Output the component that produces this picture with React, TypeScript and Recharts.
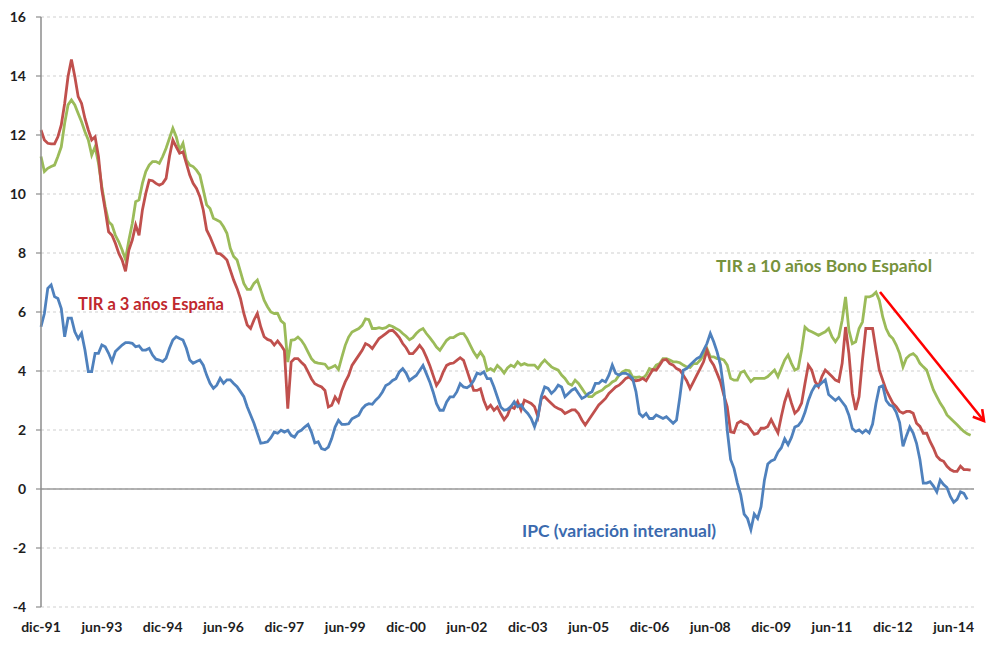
import React from 'react';
import { LineChart, Line, XAxis, YAxis, CartesianGrid, ReferenceLine } from 'recharts';

const monthNames = ['ene', 'feb', 'mar', 'abr', 'may', 'jun', 'jul', 'ago', 'sep', 'oct', 'nov', 'dic'];
const startYear = 1991;
const startMonth = 11; // dic-91
const monthCount = 277; // dic-91 .. dic-14

const yTicks = [-4, -2, 0, 2, 4, 6, 8, 10, 12, 14, 16];

// TIR a 3 años España (monthly, from dic-91)
const tir3 = [
  12.17, 11.83, 11.72, 11.7, 11.7, 11.94, 12.34, 13.07, 13.98, 14.56, 13.98, 13.3,
  13.07, 12.56, 12.17, 11.83, 11.94, 11.27, 10.14, 9.46, 8.72, 8.6, 8.33, 7.99,
  7.76, 7.38, 8.1, 8.44, 8.95, 8.6, 9.46, 10.02, 10.47, 10.45, 10.36, 10.3,
  10.36, 10.53, 11.27, 11.83, 11.6, 11.38, 11.43, 11.04, 10.64, 10.36, 10.19, 9.91,
  9.46, 8.78, 8.55, 8.27, 7.99, 7.97, 7.88, 7.76, 7.42, 7.08, 6.8, 6.46,
  5.95, 5.56, 5.44, 5.73, 5.95, 5.5, 5.16, 5.07, 5.03, 4.88, 5.02, 4.87,
  4.7, 2.72, 4.3, 4.42, 4.42, 4.3, 4.19, 3.97, 3.74, 3.57, 3.51, 3.46,
  3.34, 2.78, 2.84, 3.12, 2.95, 3.34, 3.63, 3.85, 4.19, 4.36, 4.53, 4.7,
  4.93, 4.87, 4.76, 4.93, 5.1, 5.18, 5.27, 5.36, 5.38, 5.27, 5.13, 4.93,
  4.79, 4.59, 4.59, 4.72, 4.87, 4.72, 4.47, 4.19, 3.85, 3.51, 3.68, 3.97,
  4.19, 4.25, 4.27, 4.36, 4.45, 4.36, 4.02, 3.68, 3.34, 3.34, 3.4, 3.0,
  2.72, 2.84, 2.67, 2.78, 2.55, 2.35, 2.5, 2.79, 2.73, 2.96, 2.68, 3.01,
  2.96, 2.9, 2.79, 2.45, 3.07, 3.13, 3.01, 2.9, 2.79, 2.73, 2.68, 2.56,
  2.62, 2.68, 2.68, 2.56, 2.34, 2.17, 2.34, 2.51, 2.68, 2.85, 2.96, 3.07,
  3.24, 3.35, 3.46, 3.52, 3.63, 3.75, 3.8, 3.69, 3.67, 3.69, 3.75, 3.67,
  3.86, 4.05, 4.03, 4.2, 4.37, 4.39, 4.25, 4.2, 4.08, 4.03, 3.86, 3.67,
  3.41, 3.63, 3.86, 4.08, 4.31, 4.7, 4.37, 4.2, 3.92, 3.63, 3.18, 2.79,
  1.94, 1.91, 2.23, 2.3, 2.22, 2.18, 2.01, 1.85, 1.89, 2.06, 2.06, 2.12,
  2.35, 2.12, 1.9, 2.46, 2.96, 3.3, 2.91, 2.57, 2.68, 2.91, 3.58, 4.2,
  4.03, 3.64, 3.47, 3.81, 4.03, 3.92, 3.81, 3.69, 3.64, 4.26, 5.49, 4.59,
  3.24, 2.68, 3.13, 4.37, 5.44, 5.44, 5.44, 4.71, 4.03, 3.69, 3.36, 3.13,
  2.91, 2.79, 2.63, 2.57, 2.63, 2.63, 2.57, 2.23, 2.12, 1.89, 1.89, 1.61,
  1.39, 1.11, 0.99, 0.94, 0.77, 0.66, 0.6, 0.6, 0.77, 0.66, 0.66, 0.64,
  null,
];

// TIR a 10 años Bono Español (monthly, from dic-91)
const tir10 = [
  11.27, 10.76, 10.87, 10.93, 10.98, 11.27, 11.6, 12.4, 13.02, 13.19, 13.02, 12.73,
  12.45, 12.11, 11.83, 11.32, 11.6, 11.04, 10.25, 9.57, 9.06, 8.95, 8.6, 8.38,
  8.1, 7.78, 8.44, 9.0, 9.74, 9.8, 10.36, 10.76, 10.98, 11.1, 11.1, 11.04,
  11.27, 11.55, 11.89, 12.23, 11.94, 11.49, 11.72, 11.15, 10.98, 10.93, 10.81, 10.64,
  10.14, 9.63, 9.51, 9.18, 9.12, 9.06, 8.89, 8.67, 8.16, 7.88, 7.76, 7.37,
  6.97, 6.77, 6.77, 6.97, 7.08, 6.75, 6.4, 6.18, 6.0, 5.95, 5.95, 5.7,
  5.6, 4.3, 5.04, 5.06, 5.15, 5.04, 4.87, 4.64, 4.42, 4.3, 4.27, 4.25,
  4.23, 4.08, 4.13, 4.19, 4.05, 4.47, 4.87, 5.15, 5.32, 5.38, 5.44, 5.55,
  5.77, 5.74, 5.44, 5.44, 5.47, 5.44, 5.47, 5.55, 5.51, 5.44, 5.38, 5.27,
  5.18, 5.06, 5.13, 5.27, 5.38, 5.44, 5.27, 5.13, 4.98, 4.81, 4.7, 4.87,
  5.04, 5.13, 5.13, 5.21, 5.27, 5.27, 5.1, 4.87, 4.64, 4.47, 4.64, 4.47,
  4.02, 4.08, 4.0, 4.19, 4.08, 3.93, 4.1, 4.2, 4.14, 4.31, 4.2, 4.25,
  4.2, 4.2, 4.2, 4.08, 4.25, 4.37, 4.25, 4.14, 4.08, 4.03, 3.86, 3.75,
  3.58, 3.52, 3.69, 3.58, 3.41, 3.24, 3.13, 3.13, 3.24, 3.3, 3.35, 3.46,
  3.52, 3.63, 3.69, 3.86, 3.97, 4.03, 4.01, 3.8, 3.78, 3.8, 3.75, 3.86,
  4.08, 4.03, 4.2, 4.25, 4.42, 4.42, 4.37, 4.31, 4.31, 4.28, 4.2, 4.14,
  4.12, 4.25, 4.25, 4.37, 4.54, 4.76, 4.48, 4.48, 4.42, 4.42, 4.37, 4.2,
  3.75, 3.69, 3.69, 3.95, 4.0, 3.81, 3.64, 3.75, 3.75, 3.75, 3.75, 3.81,
  3.92, 4.03, 3.81, 4.09, 4.37, 4.54, 4.26, 4.03, 4.09, 4.71, 5.49, 5.38,
  5.33, 5.27, 5.21, 5.27, 5.33, 5.44, 5.16, 4.99, 5.16, 5.72, 6.51, 5.38,
  4.93, 4.99, 5.44, 5.66, 6.51, 6.51, 6.56, 6.67, 6.39, 5.83, 5.44, 5.21,
  5.1, 4.88, 4.59, 4.14, 4.43, 4.54, 4.59, 4.48, 4.26, 4.14, 4.03, 3.69,
  3.36, 3.13, 2.91, 2.74, 2.51, 2.4, 2.29, 2.18, 2.06, 1.95, 1.87, 1.82,
  null,
];

// IPC (variación interanual) (monthly, from dic-91)
const ipc = [
  5.5, 5.95, 6.8, 6.92, 6.52, 6.46, 6.12, 5.16, 5.79, 5.79, 5.33, 5.1,
  5.28, 4.71, 3.98, 3.98, 4.6, 4.6, 4.88, 4.82, 4.6, 4.32, 4.66, 4.77,
  4.88, 4.96, 4.96, 4.94, 4.82, 4.85, 4.71, 4.71, 4.77, 4.54, 4.4, 4.37,
  4.32, 4.43, 4.77, 5.05, 5.16, 5.1, 5.05, 4.77, 4.37, 4.26, 4.32, 4.37,
  4.2, 3.86, 3.58, 3.41, 3.52, 3.75, 3.58, 3.7, 3.7, 3.58, 3.47, 3.3,
  3.13, 2.79, 2.51, 2.23, 1.89, 1.55, 1.57, 1.6, 1.74, 1.93, 1.89, 1.99,
  1.93, 1.99, 1.82, 1.76, 1.93, 1.99, 2.1, 2.19, 1.93, 1.56, 1.6, 1.37,
  1.33, 1.42, 1.71, 2.1, 2.33, 2.19, 2.19, 2.21, 2.38, 2.44, 2.5, 2.72,
  2.84, 2.89, 2.87, 3.01, 3.12, 3.29, 3.51, 3.57, 3.68, 3.74, 3.97, 4.08,
  3.93, 3.68, 3.77, 3.85, 4.02, 4.19, 3.91, 3.63, 3.29, 2.89, 2.67, 2.67,
  2.95, 3.12, 3.12, 3.29, 3.57, 3.46, 3.43, 3.51, 3.68, 3.93, 3.89, 3.97,
  3.74, 3.74, 3.46, 3.12, 2.78, 2.67, 2.7, 2.79, 2.96, 2.79, 2.85, 2.68,
  2.56, 2.39, 2.11, 2.45, 3.13, 3.46, 3.41, 3.24, 3.35, 3.52, 3.46, 3.13,
  3.24, 3.35, 3.41, 3.24, 3.07, 3.13, 3.24, 3.3, 3.58, 3.58, 3.69, 3.63,
  3.86, 4.2, 3.92, 3.86, 3.92, 3.92, 3.86, 3.75, 3.3, 2.56, 2.45, 2.56,
  2.39, 2.39, 2.51, 2.45, 2.39, 2.45, 2.34, 2.23, 2.34, 3.13, 4.03, 4.08,
  4.2, 4.31, 4.42, 4.48, 4.7, 4.93, 5.27, 4.99, 4.65, 4.2, 3.35, 2.0,
  1.0, 0.7, 0.2, -0.2, -0.85, -1.0, -1.38, -0.85, -1.0, -0.6, 0.3, 0.85,
  0.95, 1.0, 1.25, 1.4, 1.7, 1.5, 1.75, 2.1, 2.15, 2.3, 2.6, 3.0,
  3.3, 3.5, 3.5, 3.6, 3.7, 3.2, 3.1, 3.0, 3.1, 2.95, 2.8, 2.5,
  2.05, 1.95, 2.0, 1.9, 2.0, 1.9, 2.2, 2.9, 3.45, 3.5, 3.0, 2.85,
  2.8, 2.6, 2.25, 1.45, 1.8, 2.1, 1.9, 1.55, 1.0, 0.2, 0.2, 0.25,
  0.1, -0.1, 0.3, 0.15, 0.05, -0.25, -0.45, -0.35, -0.1, -0.15, -0.35, null,
  null,
];

const categories: string[] = Array.from({ length: monthCount }, (_, i) => {
  const idx = startMonth + i;
  const m = idx % 12;
  const y = (startYear + Math.floor(idx / 12)) % 100;
  return `${monthNames[m]}-${String(y).padStart(2, '0')}`;
});

const data = categories.map((label, i) => ({
  label,
  tir3: tir3[i] ?? null,
  tir10: tir10[i] ?? null,
  ipc: ipc[i] ?? null,
}));

const W = 984;
const H = 632;
const font = 'Lato, "Open Sans", sans-serif';

export default function App() {
  return (
    <div style={{ position: 'relative', width: W, height: H, background: '#fff' }}>
      <LineChart width={W} height={H} data={data} margin={{ top: 9, right: 18, bottom: 3, left: 0 }}>
        <CartesianGrid vertical={false} stroke="#cfcfcf" strokeDasharray="3 3" strokeWidth={1} />
        <XAxis
          dataKey="label"
          interval={17}
          axisLine={false}
          tickLine={false}
          tickSize={6}
          tickMargin={9}
          height={30}
          tick={{ fill: '#1e1e1e', fontSize: 14, fontWeight: 700, fontFamily: font }}
        />
        <YAxis
          type="number"
          domain={[-4, 16]}
          ticks={yTicks}
          interval={0}
          width={33}
          axisLine={{ stroke: '#8c8c8c', strokeWidth: 1.5 }}
          tickLine={{ stroke: '#8c8c8c', strokeWidth: 1.2 }}
          tickSize={5}
          tickMargin={10}
          tick={{ fill: '#1e1e1e', fontSize: 14, fontWeight: 700, fontFamily: font }}
        />
        <ReferenceLine y={0} stroke="#9a9a9a" strokeWidth={1.5} />
        <Line type="linear" dataKey="tir10" stroke="#9BBB59" strokeWidth={2.8} dot={false} isAnimationActive={false} connectNulls={false} />
        <Line type="linear" dataKey="tir3" stroke="#C0504D" strokeWidth={2.8} dot={false} isAnimationActive={false} connectNulls={false} />
        <Line type="linear" dataKey="ipc" stroke="#4F81BD" strokeWidth={2.8} dot={false} isAnimationActive={false} connectNulls={false} />
      </LineChart>
      <svg width={W} height={H} style={{ position: 'absolute', left: 0, top: 0, pointerEvents: 'none' }}>
        <text x={70} y={302} fill="#C0282D" fontSize={16.5} fontWeight={700} fontFamily={font}>
          TIR a 3 años España
        </text>
        <text x={708} y={264} fill="#76923C" fontSize={17.5} fontWeight={700} fontFamily={font}>
          TIR a 10 años Bono Español
        </text>
        <text x={514} y={529} fill="#3B6AAE" fontSize={17.5} fontWeight={700} fontFamily={font}>
          IPC (variación interanual)
        </text>
        <line x1={872} y1={284} x2={976} y2={413} stroke="#FF0000" strokeWidth={2.6} />
        <polyline points="974.2,401.1 976,413 964.8,408.7" fill="none" stroke="#FF0000" strokeWidth={2.6} />
      </svg>
    </div>
  );
}
